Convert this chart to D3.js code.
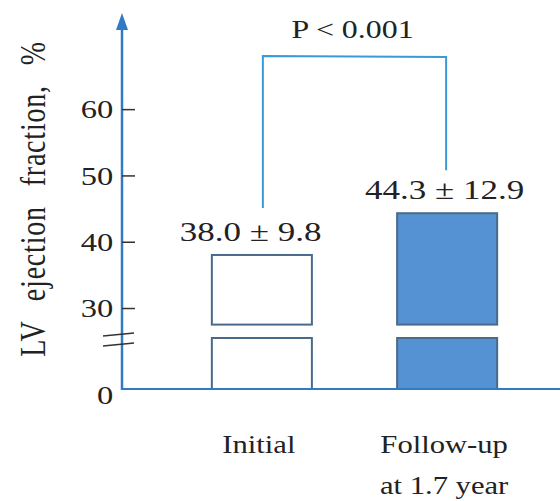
<!DOCTYPE html>
<html>
<head>
<meta charset="utf-8">
<script src="https://cdn.jsdelivr.net/npm/d3@7/dist/d3.min.js"></script>
<style>
  html, body { margin: 0; padding: 0; background: #fff; }
  svg { display: block; }
  text { font-family: "Liberation Serif", "Times New Roman", serif; fill: #222; }
</style>
</head>
<body>
<svg id="chart" width="560" height="501"></svg>
<script>
// ---- data ----
const categories = ["Initial", "Follow-up\nat 1.7 year"];
const means = [38.0, 44.3];
const sds = [9.8, 12.9];
const tickValues = [0, 30, 40, 50, 60];
const yLabel = "LV ejection fraction, %";
const pLabel = "P < 0.001";
const breakLow = 20, breakHigh = 27.5, yMax = 74.5;

// ---- layout ----
const W = 560, H = 501;
const axisX = 122;
const svg = d3.select("#chart");
const blue = "#2f7cc4";
const barFill = "#5592d3";
const barStroke = "#4a6a8c";
const bracketColor = "#3a9ad8";
const SX = 1.25;

const x = d3.scaleBand().domain(categories).range([axisX, 587])
  .paddingInner(0.46).paddingOuter(0.485);
const y = d3.scaleLinear().domain([0, breakLow, breakHigh, yMax]).range([389, 338, 324.6, 13]);

// bars (broken: lower and upper segment)
categories.forEach((c, i) => {
  const segs = [[0, breakLow], [breakHigh, means[i]]];
  segs.forEach(([a, b]) => {
    svg.append("rect")
      .attr("x", x(c)).attr("width", x.bandwidth())
      .attr("y", y(b)).attr("height", y(a) - y(b))
      .attr("fill", i === 0 ? "#fff" : barFill)
      .attr("stroke", barStroke).attr("stroke-width", 2);
  });
});

// x axis line
svg.append("line").attr("x1", axisX).attr("x2", W).attr("y1", y(0)).attr("y2", y(0))
  .attr("stroke", blue).attr("stroke-width", 2);

// y axis line + arrow
svg.append("line").attr("x1", axisX).attr("x2", axisX).attr("y1", y(0) + 1).attr("y2", y(yMax) + 10)
  .attr("stroke", blue).attr("stroke-width", 2.5);
const ap = d3.path();
ap.moveTo(axisX, y(yMax)); ap.lineTo(axisX - 6, y(yMax) + 17); ap.lineTo(axisX + 6, y(yMax) + 17); ap.closePath();
svg.append("path").attr("d", ap.toString()).attr("fill", blue);

// ticks
const yAxis = d3.axisLeft(y).tickValues(tickValues).tickFormat(d3.format("d"))
  .tickSizeInner(-13).tickSizeOuter(0).tickPadding(7);
const gy = svg.append("g").attr("transform", `translate(${axisX},0)`).call(yAxis);
gy.select(".domain").remove();
gy.selectAll(".tick line").attr("stroke", "#333").attr("stroke-width", 1.5);
gy.selectAll(".tick text")
  .attr("font-family", "Liberation Serif").attr("font-size", 26).attr("fill", "#222")
  .attr("transform", `scale(${SX},1)`)
  .attr("dy", d => d === 0 ? "0.55em" : "0.34em");
gy.selectAll(".tick").filter(d => d === 0).select("line").remove();

// axis break marks
const yb1 = y(breakLow) - 4;
[yb1, yb1 + 10].forEach(yy => {
  svg.append("line").attr("x1", axisX - 19).attr("x2", axisX + 12)
    .attr("y1", yy + 2).attr("y2", yy - 1)
    .attr("stroke", "#333").attr("stroke-width", 1.6);
});

// value labels
categories.forEach((c, i) => {
  svg.append("text")
    .attr("transform", `translate(${x(c) - 32},${y(means[i]) - 14}) scale(${SX},1)`)
    .attr("font-size", 28)
    .text(`${means[i].toFixed(1)} ± ${sds[i].toFixed(1)}`);
});

// category labels
categories.forEach((c, i) => {
  const lines = c.split("\n");
  lines.forEach((ln, j) => {
    svg.append("text")
      .attr("transform", `translate(${x(c) + x.bandwidth() / 2 - 3},${453 + j * 41}) scale(${SX},1)`)
      .attr("text-anchor", "middle").attr("font-size", 24.5)
      .text(ln);
  });
});

// significance bracket
const bx1 = x(categories[0]) + x.bandwidth() / 2 + 1;
const bx2 = x(categories[1]) + x.bandwidth() / 2 - 1;
const by = 56;
const bp = d3.path();
bp.moveTo(bx1, y(means[0]) - 47);
bp.lineTo(bx1, by);
bp.lineTo(bx2, by + 1);
bp.lineTo(bx2, y(means[1]) - 43);
svg.append("path").attr("d", bp.toString()).attr("fill", "none")
  .attr("stroke", bracketColor).attr("stroke-width", 2);
svg.append("text")
  .attr("transform", `translate(${(bx1 + bx2) / 2 - 2},38) scale(${SX},1)`)
  .attr("text-anchor", "middle").attr("font-size", 25.5)
  .text(pLabel);

// y label
svg.append("text")
  .attr("transform", `translate(45,199) scale(${SX},1) rotate(-90)`)
  .attr("text-anchor", "middle").attr("font-size", 28)
  .style("word-spacing", "12px").style("letter-spacing", "0.8px")
  .text(yLabel);
</script>
</body>
</html>
